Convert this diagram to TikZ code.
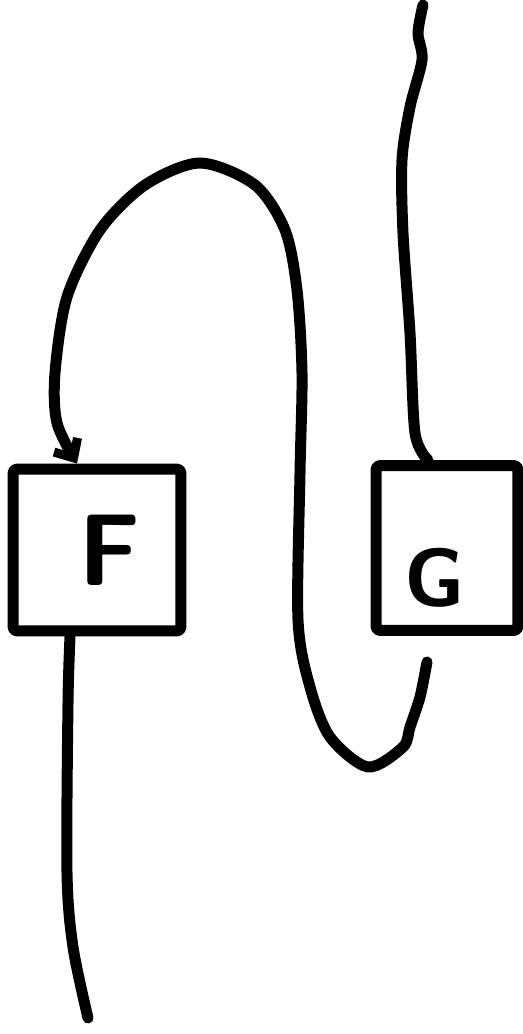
\documentclass[tikz,border=0pt]{standalone}
\usetikzlibrary{arrows.meta}

\begin{document}
\begin{tikzpicture}[x=0.02cm, y=0.02cm, line width=0.22cm, line cap=round, line join=round,
box/.style={draw, rounded corners=0.08cm, minimum width=3.36cm, minimum height=3.24cm, font=\sffamily\bfseries\fontsize{58}{58}\selectfont}]
  \useasboundingbox (0,0) rectangle (523,-1034);
  \node[box] (F) at (97,-550) {\makebox[0pt]{\hspace{0.52cm}F}};
  \node[box, minimum width=2.84cm, minimum height=3.3cm, font=\sffamily\bfseries\fontsize{47}{47}\selectfont] (G) at (447,-548)
    {\raisebox{-1.18cm}[0pt][0pt]{\makebox[0pt]{G\hspace{0.48cm}}}};
  % wire from the top into G
  \draw plot[smooth] coordinates {(423,-5) (418,-33) (422,-60) (410,-107) (402,-160) (403,-233) (410,-333) (415,-433) ([xshift=-0.38cm]G.north)};
  % G round the cup and cap into F
  \draw[-{Straight Barb[length=0.3cm, width=0.55cm, line width=0.18cm]}] plot[smooth] coordinates {([xshift=-0.4cm, yshift=-0.52cm]G.south) (420,-697) (410,-727) (403,-747) (368,-767) (330,-737) (310,-687) (298,-620) (300,-473) (302,-373) (297,-290) (285,-230) (255,-185) (200,-163) (145,-185) (100,-230) (67,-297) (55,-373) (57,-423) ([xshift=-0.4cm]F.north)};
  % out of F to the bottom
  \draw plot[smooth] coordinates {([xshift=-0.54cm]F.south) (68,-703) (67,-873) (73,-947) (88,-1018)};
\end{tikzpicture}
\end{document}
